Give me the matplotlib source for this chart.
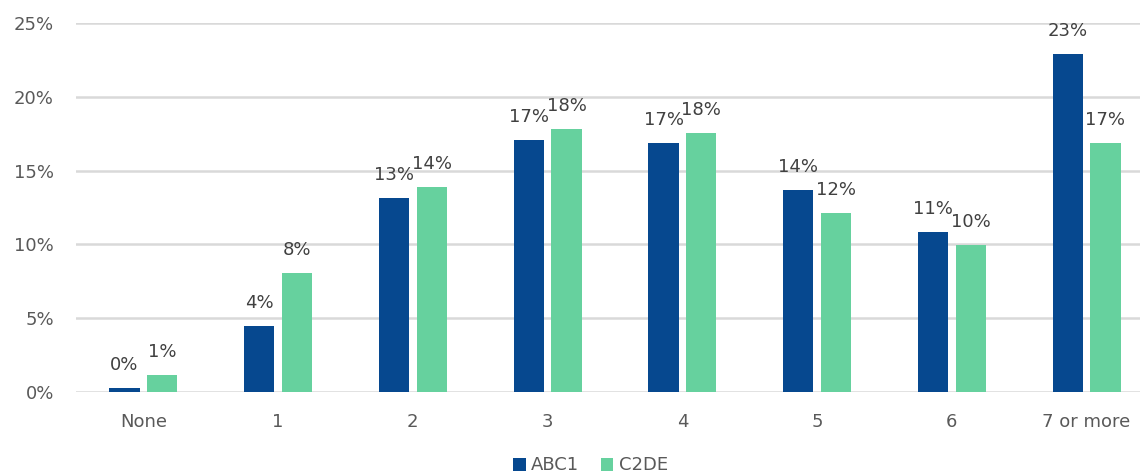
import matplotlib.pyplot as plt
import numpy as np

categories = ["None", "1", "2", "3", "4", "5", "6", "7 or more"]
abc1 = [0.25, 4.45, 13.15, 17.1, 16.9, 13.7, 10.85, 22.9]
c2de = [1.15, 8.05, 13.9, 17.8, 17.55, 12.15, 9.95, 16.9]
abc1_labels = ["0%", "4%", "13%", "17%", "17%", "14%", "11%", "23%"]
c2de_labels = ["1%", "8%", "14%", "18%", "18%", "12%", "10%", "17%"]

BLUE = "#06488F"
GREEN = "#66D19E"
GRID = "#D9D9D9"
TEXT = "#595959"

plt.rcParams['font.family'] = ['DejaVu Sans']

fig = plt.figure(figsize=(11.4, 4.75), dpi=100)
ax = fig.add_axes([76 / 1140, 83.3 / 475, 1078 / 1140, 368.4 / 475])

x = np.arange(len(categories))
w = 0.223
off = 0.14
b1 = ax.bar(x - off, abc1, w, color=BLUE, label="ABC1", zorder=3)
b2 = ax.bar(x + off, c2de, w, color=GREEN, label="C2DE", zorder=3)

for bars, labels in ((b1, abc1_labels), (b2, c2de_labels)):
    for rect, lab in zip(bars, labels):
        ax.annotate(lab, (rect.get_x() + rect.get_width() / 2, rect.get_height()),
                    xytext=(0, 14), textcoords='offset pixels', ha='center', va='bottom',
                    fontsize=13, color="#404040")

ax.set_xlim(-0.5, len(categories) - 0.5)
ax.set_ylim(0, 25)
ax.set_yticks(range(0, 26, 5))
ax.set_yticklabels([f"{v}%" for v in range(0, 26, 5)])
ax.set_xticks(x)
ax.set_xticklabels(categories)
ax.tick_params(axis='both', length=0, labelsize=13, labelcolor=TEXT)
ax.tick_params(axis='y', pad=16)
ax.tick_params(axis='x', pad=15)
ax.grid(axis='y', color=GRID, linewidth=1.8, zorder=0)
for s in ax.spines.values():
    s.set_visible(False)

fig.legend(loc='center', bbox_to_anchor=(0.518, 0.02), ncol=2, frameon=False,
           fontsize=13, labelcolor=TEXT, handlelength=0.7, handleheight=0.7,
           handletextpad=0.3, columnspacing=1.2)

fig.savefig("out.png", dpi=100)
